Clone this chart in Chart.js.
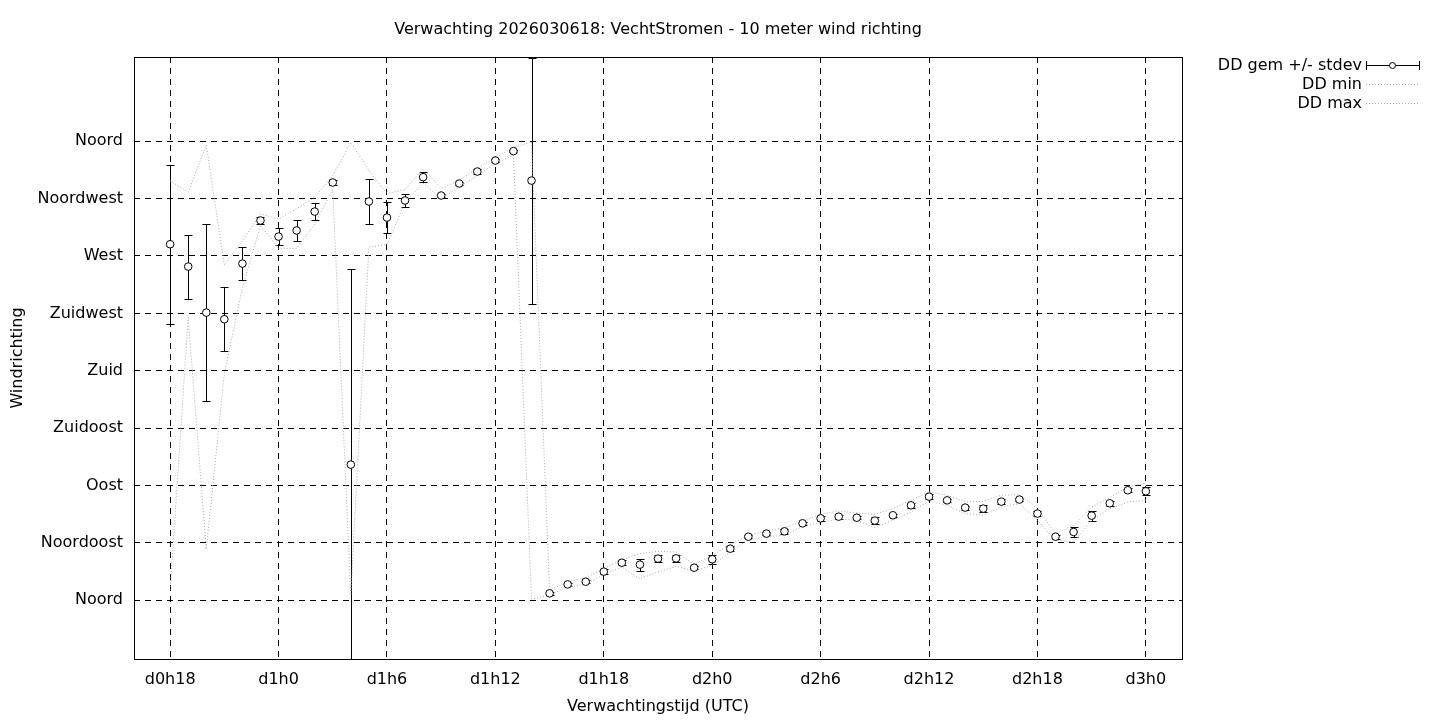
<!DOCTYPE html>
<html lang="nl">
<head>
    <meta charset="UTF-8">
    <title>Verwachting 2026030618: VechtStromen - 10 meter wind richting</title>
    <script src="https://cdn.jsdelivr.net/npm/chart.js"></script>
    <style>
        html, body { margin: 0; padding: 0; background: #fff; }
        #wrap { width: 1440px; height: 720px; }
    </style>
</head>
<body>
<div id="wrap"><canvas id="chart" width="1440" height="720"></canvas></div>

<script>
    // verwachtingsuren (uren na d0h0)
    const hours = [18, 19, 20, 21, 22, 23, 24, 25, 26, 27, 28, 29, 30, 31, 32, 33, 34, 35, 36,
        37, 38, 39, 40, 41, 42, 43, 44, 45, 46, 47, 48, 49, 50, 51, 52, 53, 54, 55, 56,
        57, 58, 59, 60, 61, 62, 63, 64, 65, 66, 67, 68, 69, 70, 71, 72];

    const ddMean = [279.2, 261.7, 225.6, 220.4, 264, 297.8, 285.2, 290, 304.8, 327.6, 106.4, 312.7, 300.1, 313.5, 331.8, 317.4, 326.8, 336.2, 344.8,
        352.2, 329.1, 5.5, 12.5, 14.6, 22.5, 29.5, 28, 32.7, 32.9, 25.6, 32.2, 40.5, 49.9, 52.3, 54.1, 60.4, 64.3, 65.6, 64.8,
        62.5, 66.7, 74.5, 81.3, 78.4, 72.7, 71.9, 77.4, 79, 68, 49.9, 53.6, 66.4, 76.1, 86.3, 85.5];

    const ddStdev = [62.4, 25.1, 69.4, 25.1, 13, 3, 6.6, 8.5, 6.6, 2, 153.7, 18, 12, 5, 3.9, 1.5, 1, 2, 1,
        1, 96.4, 1, 1, 1, 2, 2, 4.7, 3, 2.5, 1, 3.5, 2, 1, 1, 2, 1, 2, 1.5, 1,
        3, 1, 2, 2, 1, 1.5, 3, 2, 1, 2, 1.5, 4, 4, 2, 1.5, 3];

    const ddMin = [8, 222, 40, 178, 245, 294, 276, 276, 295, 322, 4, 277, 279, 312, 327, 315, 324, 333, 342.5,
        349, 1, 4, 10.5, 12.5, 20.4, 26.1, 17, 22.2, 26.7, 23, 27.5, 37.9, 47.6, 49.7, 51, 58, 60.9, 63.8, 62.7,
        57, 62.7, 69.3, 77.9, 74.5, 68, 66.7, 73.2, 75.8, 62.7, 47, 45.8, 62.7, 71.9, 77.1, 78.4];

    const ddMax = [329, 320, 357, 263, 282, 303, 299, 307, 316, 333, 359, 337, 319, 322, 338.5, 323, 329.4, 338.6, 347.2,
        355, 359.5, 8, 14.4, 17.8, 24.8, 31.9, 36.6, 38.4, 37.9, 28.2, 35.3, 43.9, 51, 54.4, 57, 62.2, 67.5, 70, 68.5,
        67.5, 71.9, 78.4, 85, 82.4, 77.1, 77.6, 82.4, 82.9, 71.9, 52.3, 58.8, 73.2, 80.5, 88.9, 92];

    const xTickValues = [18, 24, 30, 36, 42, 48, 54, 60, 66, 72];
    const xTickLabels = ['d0h18', 'd1h0', 'd1h6', 'd1h12', 'd1h18', 'd2h0', 'd2h6', 'd2h12', 'd2h18', 'd3h0'];
    const yTickValues = [0, 45, 90, 135, 180, 225, 270, 315, 360];
    const yTickLabels = ['Noord', 'Noordoost', 'Oost', 'Zuidoost', 'Zuid', 'Zuidwest', 'West', 'Noordwest', 'Noord'];

    const FONT = 'DejaVu Sans';
    const FONT_SIZE = 16;
    const MINMAX_COLOR = '#a8a8a8';

    const toPoints = arr => hours.map((h, i) => ({x: h, y: arr[i]}));

    // error bars for the mean, clipped to the plot area
    const errorBars = {
        id: 'errorBars',
        beforeDatasetsDraw(chart) {
            const {ctx, chartArea, scales: {x, y}} = chart;
            ctx.save();
            ctx.beginPath();
            ctx.rect(chartArea.left, chartArea.top, chartArea.right - chartArea.left, chartArea.bottom - chartArea.top);
            ctx.clip();
            ctx.strokeStyle = '#000';
            ctx.lineWidth = 1;
            hours.forEach((h, i) => {
                const px = Math.round(x.getPixelForValue(h)) + 0.5;
                const top = Math.round(y.getPixelForValue(ddMean[i] + ddStdev[i])) + 0.5;
                const bot = Math.round(y.getPixelForValue(ddMean[i] - ddStdev[i])) + 0.5;
                ctx.beginPath();
                ctx.moveTo(px, top);
                ctx.lineTo(px, bot);
                ctx.moveTo(px - 4, top);
                ctx.lineTo(px + 4, top);
                ctx.moveTo(px - 4, bot);
                ctx.lineTo(px + 4, bot);
                ctx.stroke();
            });
            ctx.restore();
        }
    };

    // border, title and gnuplot-style key
    const frame = {
        id: 'frame',
        afterDraw(chart) {
            const {ctx, chartArea} = chart;
            const l = Math.round(chartArea.left) + 0.5, t = Math.round(chartArea.top) + 0.5;
            const r = Math.round(chartArea.right) + 0.5, b = Math.round(chartArea.bottom) + 0.5;
            ctx.save();
            ctx.strokeStyle = '#000';
            ctx.lineWidth = 1;
            ctx.setLineDash([]);
            ctx.strokeRect(l, t, r - l, b - t);

            ctx.fillStyle = '#000';
            ctx.font = `${FONT_SIZE}px "${FONT}"`;
            ctx.textBaseline = 'middle';
            ctx.textAlign = 'center';
            ctx.fillText('Verwachting 2026030618: VechtStromen - 10 meter wind richting', (chartArea.left + chartArea.right) / 2, 30);

            ctx.textAlign = 'right';
            const kx = 1362, s0 = 1366, s1 = 1419;
            ctx.fillText('DD gem +/- stdev', kx, 66);
            ctx.beginPath();
            ctx.moveTo(s0, 65.5); ctx.lineTo(s1, 65.5);
            ctx.moveTo(s0 + 0.5, 61); ctx.lineTo(s0 + 0.5, 70);
            ctx.moveTo(s1 + 0.5, 61); ctx.lineTo(s1 + 0.5, 70);
            ctx.stroke();
            ctx.beginPath();
            ctx.arc(1392.5, 65.5, 3, 0, Math.PI * 2);
            ctx.fillStyle = '#fff';
            ctx.fill();
            ctx.stroke();

            ctx.fillStyle = '#000';
            ctx.fillText('DD min', kx, 85);
            ctx.fillText('DD max', kx, 104);
            ctx.strokeStyle = MINMAX_COLOR;
            ctx.setLineDash([1, 2]);
            [84.5, 103.5].forEach(yy => {
                ctx.beginPath();
                ctx.moveTo(s0, yy); ctx.lineTo(s1, yy);
                ctx.stroke();
            });
            ctx.restore();
        }
    };

    new Chart(document.getElementById('chart').getContext('2d'), {
        type: 'line',
        data: {
            datasets: [
                {
                    label: 'DD gem +/- stdev',
                    data: toPoints(ddMean),
                    showLine: false,
                    pointStyle: 'circle',
                    pointRadius: 3.8,
                    pointBackgroundColor: '#fff',
                    pointBorderColor: '#000',
                    pointBorderWidth: 1
                },
                {
                    label: 'DD min',
                    data: toPoints(ddMin),
                    borderColor: MINMAX_COLOR,
                    borderWidth: 1,
                    borderDash: [1, 2],
                    pointRadius: 0,
                    tension: 0
                },
                {
                    label: 'DD max',
                    data: toPoints(ddMax),
                    borderColor: MINMAX_COLOR,
                    borderWidth: 1,
                    borderDash: [1, 2],
                    pointRadius: 0,
                    tension: 0
                }
            ]
        },
        options: {
            responsive: false,
            animation: false,
            events: [],
            layout: { padding: { top: 57, right: 258, bottom: 0, left: 0 } },
            plugins: {
                legend: { display: false },
                tooltip: { enabled: false },
                title: { display: false }
            },
            scales: {
                x: {
                    type: 'linear',
                    min: 16,
                    max: 74,
                    afterBuildTicks: scale => { scale.ticks = xTickValues.map(v => ({value: v})); },
                    afterFit: scale => { scale.height = 61; },
                    ticks: {
                        autoSkip: false,
                        maxRotation: 0,
                        padding: 11,
                        color: '#000',
                        font: { family: FONT, size: FONT_SIZE },
                        callback: value => xTickLabels[xTickValues.indexOf(value)]
                    },
                    grid: { color: '#000', lineWidth: 1, drawTicks: false },
                    border: { display: false, dash: [6, 5] },
                    title: {
                        display: true,
                        text: 'Verwachtingstijd (UTC)',
                        color: '#000',
                        font: { family: FONT, size: FONT_SIZE },
                        padding: { top: 0, bottom: 4 }
                    }
                },
                y: {
                    type: 'linear',
                    min: -46,
                    max: 426,
                    afterBuildTicks: scale => { scale.ticks = yTickValues.map(v => ({value: v})); },
                    afterFit: scale => { scale.width = 134; },
                    ticks: {
                        autoSkip: false,
                        padding: 11,
                        color: '#000',
                        font: { family: FONT, size: FONT_SIZE },
                        callback: value => yTickLabels[yTickValues.indexOf(value)]
                    },
                    grid: { color: '#000', lineWidth: 1, drawTicks: false },
                    border: { display: false, dash: [6, 5] },
                    title: {
                        display: true,
                        text: 'Windrichting',
                        color: '#000',
                        font: { family: FONT, size: FONT_SIZE },
                        padding: { top: 8, bottom: 0 }
                    }
                }
            }
        },
        plugins: [errorBars, frame]
    });
</script>
</body>
</html>
